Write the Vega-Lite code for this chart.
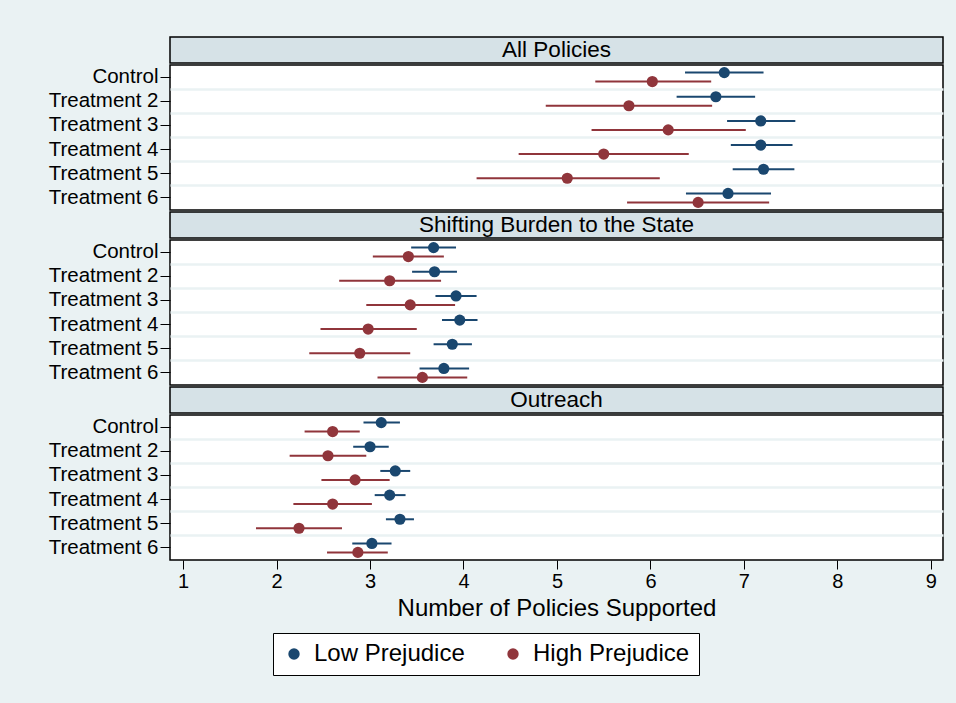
{
  "$schema": "https://vega.github.io/schema/vega-lite/v6.json",
  "background": "#eaf2f3",
  "padding": {"left": 47, "top": 36, "right": 12, "bottom": 30},
  "config": {
    "font": "Liberation Sans",
    "view": {"stroke": "black", "strokeWidth": 1.5, "fill": "white"},
    "concat": {"spacing": 0}
  },
  "datasets": {
    "d": [
      {"panel": "All Policies", "group": "Control", "prejudice": "Low Prejudice", "mean": 6.79, "lo": 6.37, "hi": 7.21},
      {"panel": "All Policies", "group": "Control", "prejudice": "High Prejudice", "mean": 6.02, "lo": 5.41, "hi": 6.65},
      {"panel": "All Policies", "group": "Treatment 2", "prejudice": "Low Prejudice", "mean": 6.70, "lo": 6.28, "hi": 7.12},
      {"panel": "All Policies", "group": "Treatment 2", "prejudice": "High Prejudice", "mean": 5.77, "lo": 4.88, "hi": 6.66},
      {"panel": "All Policies", "group": "Treatment 3", "prejudice": "Low Prejudice", "mean": 7.18, "lo": 6.82, "hi": 7.55},
      {"panel": "All Policies", "group": "Treatment 3", "prejudice": "High Prejudice", "mean": 6.19, "lo": 5.37, "hi": 7.02},
      {"panel": "All Policies", "group": "Treatment 4", "prejudice": "Low Prejudice", "mean": 7.18, "lo": 6.86, "hi": 7.52},
      {"panel": "All Policies", "group": "Treatment 4", "prejudice": "High Prejudice", "mean": 5.50, "lo": 4.59, "hi": 6.41},
      {"panel": "All Policies", "group": "Treatment 5", "prejudice": "Low Prejudice", "mean": 7.21, "lo": 6.88, "hi": 7.54},
      {"panel": "All Policies", "group": "Treatment 5", "prejudice": "High Prejudice", "mean": 5.11, "lo": 4.14, "hi": 6.10},
      {"panel": "All Policies", "group": "Treatment 6", "prejudice": "Low Prejudice", "mean": 6.83, "lo": 6.38, "hi": 7.29},
      {"panel": "All Policies", "group": "Treatment 6", "prejudice": "High Prejudice", "mean": 6.51, "lo": 5.75, "hi": 7.27},
      {"panel": "Shifting Burden to the State", "group": "Control", "prejudice": "Low Prejudice", "mean": 3.68, "lo": 3.44, "hi": 3.92},
      {"panel": "Shifting Burden to the State", "group": "Control", "prejudice": "High Prejudice", "mean": 3.41, "lo": 3.03, "hi": 3.79},
      {"panel": "Shifting Burden to the State", "group": "Treatment 2", "prejudice": "Low Prejudice", "mean": 3.69, "lo": 3.45, "hi": 3.93},
      {"panel": "Shifting Burden to the State", "group": "Treatment 2", "prejudice": "High Prejudice", "mean": 3.21, "lo": 2.67, "hi": 3.76},
      {"panel": "Shifting Burden to the State", "group": "Treatment 3", "prejudice": "Low Prejudice", "mean": 3.92, "lo": 3.70, "hi": 4.14},
      {"panel": "Shifting Burden to the State", "group": "Treatment 3", "prejudice": "High Prejudice", "mean": 3.43, "lo": 2.96, "hi": 3.91},
      {"panel": "Shifting Burden to the State", "group": "Treatment 4", "prejudice": "Low Prejudice", "mean": 3.96, "lo": 3.77, "hi": 4.15},
      {"panel": "Shifting Burden to the State", "group": "Treatment 4", "prejudice": "High Prejudice", "mean": 2.98, "lo": 2.47, "hi": 3.50},
      {"panel": "Shifting Burden to the State", "group": "Treatment 5", "prejudice": "Low Prejudice", "mean": 3.88, "lo": 3.68, "hi": 4.09},
      {"panel": "Shifting Burden to the State", "group": "Treatment 5", "prejudice": "High Prejudice", "mean": 2.89, "lo": 2.35, "hi": 3.43},
      {"panel": "Shifting Burden to the State", "group": "Treatment 6", "prejudice": "Low Prejudice", "mean": 3.79, "lo": 3.53, "hi": 4.06},
      {"panel": "Shifting Burden to the State", "group": "Treatment 6", "prejudice": "High Prejudice", "mean": 3.56, "lo": 3.08, "hi": 4.04},
      {"panel": "Outreach", "group": "Control", "prejudice": "Low Prejudice", "mean": 3.12, "lo": 2.93, "hi": 3.32},
      {"panel": "Outreach", "group": "Control", "prejudice": "High Prejudice", "mean": 2.60, "lo": 2.30, "hi": 2.89},
      {"panel": "Outreach", "group": "Treatment 2", "prejudice": "Low Prejudice", "mean": 3.00, "lo": 2.82, "hi": 3.20},
      {"panel": "Outreach", "group": "Treatment 2", "prejudice": "High Prejudice", "mean": 2.55, "lo": 2.14, "hi": 2.96},
      {"panel": "Outreach", "group": "Treatment 3", "prejudice": "Low Prejudice", "mean": 3.27, "lo": 3.11, "hi": 3.43},
      {"panel": "Outreach", "group": "Treatment 3", "prejudice": "High Prejudice", "mean": 2.84, "lo": 2.48, "hi": 3.21},
      {"panel": "Outreach", "group": "Treatment 4", "prejudice": "Low Prejudice", "mean": 3.21, "lo": 3.05, "hi": 3.38},
      {"panel": "Outreach", "group": "Treatment 4", "prejudice": "High Prejudice", "mean": 2.60, "lo": 2.18, "hi": 3.02},
      {"panel": "Outreach", "group": "Treatment 5", "prejudice": "Low Prejudice", "mean": 3.32, "lo": 3.17, "hi": 3.47},
      {"panel": "Outreach", "group": "Treatment 5", "prejudice": "High Prejudice", "mean": 2.24, "lo": 1.78, "hi": 2.70},
      {"panel": "Outreach", "group": "Treatment 6", "prejudice": "Low Prejudice", "mean": 3.02, "lo": 2.81, "hi": 3.23},
      {"panel": "Outreach", "group": "Treatment 6", "prejudice": "High Prejudice", "mean": 2.87, "lo": 2.54, "hi": 3.19}
    ],
    "titles": [
      {"panel": "All Policies"},
      {"panel": "Shifting Burden to the State"},
      {"panel": "Outreach"}
    ]
  },
  "spacing": 0,
  "vconcat": [
    {
      "spacing": 0,
      "vconcat": [
        {
          "width": 773, "height": 26,
          "view": {"fill": "#d6e2e7", "stroke": "black", "strokeWidth": 1.5},
          "data": {"name": "titles"},
          "transform": [{"filter": "datum.panel === 'All Policies'"}],
          "mark": {"type": "text", "fontSize": 22.5, "color": "black", "font": "Liberation Sans"},
          "encoding": {"text": {"field": "panel"}}
        },
        {
          "width": 773, "height": 145,
          "data": {"name": "d"},
          "transform": [{"filter": "datum.panel === 'All Policies'"}],
          "encoding": {
            "yOffset": {"field": "prejudice", "sort": ["Low Prejudice", "High Prejudice"], "scale": {"paddingInner": 0, "paddingOuter": 0.35}},
            "color": {"field": "prejudice", "type": "nominal", "sort": ["Low Prejudice", "High Prejudice"],
              "scale": {"domain": ["Low Prejudice", "High Prejudice"], "range": ["#1a476f", "#90353b"]},
              "legend": {"orient": "none", "legendX": 103, "legendY": 596, "direction": "horizontal", "title": null,
                "strokeColor": "black", "fillColor": "white", "padding": 9, "labelFontSize": 24, "labelColor": "black",
                "labelFont": "Liberation Sans", "symbolType": "circle", "symbolSize": 130, "symbolStrokeWidth": 0,
                "labelOffset": 8, "columnPadding": 36, "cornerRadius": 0}}
          },
          "layer": [
            {
              "mark": {"type": "rule", "strokeWidth": 2},
              "encoding": {
                "y": {"field": "group", "type": "nominal", "sort": ["Control", "Treatment 2", "Treatment 3", "Treatment 4", "Treatment 5", "Treatment 6"],
                  "scale": {"paddingInner": 0, "paddingOuter": 0},
                  "axis": {"title": null, "grid": false, "domain": false, "labelFontSize": 20.5, "labelColor": "black", "labelFont": "Liberation Sans", "tickColor": "black", "tickSize": 10, "tickWidth": 1, "labelPadding": 2, "orient": "left"}},
                "x": {"field": "lo", "type": "quantitative", "scale": {"domain": [0.86, 9.13], "nice": false, "zero": false}, "axis": null},
                "x2": {"field": "hi"}
              }
            },
            {
              "mark": {"type": "point", "filled": true, "opacity": 1, "size": 125},
              "encoding": {
                "y": {"field": "group", "type": "nominal", "sort": ["Control", "Treatment 2", "Treatment 3", "Treatment 4", "Treatment 5", "Treatment 6"],
                  "axis": {"title": null, "grid": true, "gridColor": "#eaf2f3", "gridWidth": 2.5, "domain": false, "labels": false, "ticks": false, "bandPosition": 0, "values": ["Treatment 2", "Treatment 3", "Treatment 4", "Treatment 5", "Treatment 6"], "orient": "left"}},
                "x": {"field": "mean", "type": "quantitative"}
              }
            }
          ],
          "resolve": {"axis": {"y": "independent"}}
        }
      ]
    },
    {
      "spacing": 0,
      "vconcat": [
        {
          "width": 773, "height": 26,
          "view": {"fill": "#d6e2e7", "stroke": "black", "strokeWidth": 1.5},
          "data": {"name": "titles"},
          "transform": [{"filter": "datum.panel === 'Shifting Burden to the State'"}],
          "mark": {"type": "text", "fontSize": 22.5, "color": "black", "font": "Liberation Sans"},
          "encoding": {"text": {"field": "panel"}}
        },
        {
          "width": 773, "height": 145,
          "data": {"name": "d"},
          "transform": [{"filter": "datum.panel === 'Shifting Burden to the State'"}],
          "encoding": {
            "yOffset": {"field": "prejudice", "sort": ["Low Prejudice", "High Prejudice"], "scale": {"paddingInner": 0, "paddingOuter": 0.35}},
            "color": {"field": "prejudice", "type": "nominal", "sort": ["Low Prejudice", "High Prejudice"],
              "scale": {"domain": ["Low Prejudice", "High Prejudice"], "range": ["#1a476f", "#90353b"]}}
          },
          "layer": [
            {
              "mark": {"type": "rule", "strokeWidth": 2},
              "encoding": {
                "y": {"field": "group", "type": "nominal", "sort": ["Control", "Treatment 2", "Treatment 3", "Treatment 4", "Treatment 5", "Treatment 6"],
                  "scale": {"paddingInner": 0, "paddingOuter": 0},
                  "axis": {"title": null, "grid": false, "domain": false, "labelFontSize": 20.5, "labelColor": "black", "labelFont": "Liberation Sans", "tickColor": "black", "tickSize": 10, "tickWidth": 1, "labelPadding": 2, "orient": "left"}},
                "x": {"field": "lo", "type": "quantitative", "scale": {"domain": [0.86, 9.13], "nice": false, "zero": false}, "axis": null},
                "x2": {"field": "hi"}
              }
            },
            {
              "mark": {"type": "point", "filled": true, "opacity": 1, "size": 125},
              "encoding": {
                "y": {"field": "group", "type": "nominal", "sort": ["Control", "Treatment 2", "Treatment 3", "Treatment 4", "Treatment 5", "Treatment 6"],
                  "axis": {"title": null, "grid": true, "gridColor": "#eaf2f3", "gridWidth": 2.5, "domain": false, "labels": false, "ticks": false, "bandPosition": 0, "values": ["Treatment 2", "Treatment 3", "Treatment 4", "Treatment 5", "Treatment 6"], "orient": "left"}},
                "x": {"field": "mean", "type": "quantitative"}
              }
            }
          ],
          "resolve": {"axis": {"y": "independent"}}
        }
      ]
    },
    {
      "spacing": 0,
      "vconcat": [
        {
          "width": 773, "height": 26,
          "view": {"fill": "#d6e2e7", "stroke": "black", "strokeWidth": 1.5},
          "data": {"name": "titles"},
          "transform": [{"filter": "datum.panel === 'Outreach'"}],
          "mark": {"type": "text", "fontSize": 22.5, "color": "black", "font": "Liberation Sans"},
          "encoding": {"text": {"field": "panel"}}
        },
        {
          "width": 773, "height": 145,
          "data": {"name": "d"},
          "transform": [{"filter": "datum.panel === 'Outreach'"}],
          "encoding": {
            "yOffset": {"field": "prejudice", "sort": ["Low Prejudice", "High Prejudice"], "scale": {"paddingInner": 0, "paddingOuter": 0.35}},
            "color": {"field": "prejudice", "type": "nominal", "sort": ["Low Prejudice", "High Prejudice"],
              "scale": {"domain": ["Low Prejudice", "High Prejudice"], "range": ["#1a476f", "#90353b"]}}
          },
          "layer": [
            {
              "mark": {"type": "rule", "strokeWidth": 2},
              "encoding": {
                "y": {"field": "group", "type": "nominal", "sort": ["Control", "Treatment 2", "Treatment 3", "Treatment 4", "Treatment 5", "Treatment 6"],
                  "scale": {"paddingInner": 0, "paddingOuter": 0},
                  "axis": {"title": null, "grid": false, "domain": false, "labelFontSize": 20.5, "labelColor": "black", "labelFont": "Liberation Sans", "tickColor": "black", "tickSize": 10, "tickWidth": 1, "labelPadding": 2, "orient": "left"}},
                "x": {"field": "lo", "type": "quantitative", "scale": {"domain": [0.86, 9.13], "nice": false, "zero": false},
                  "axis": {"values": [1, 2, 3, 4, 5, 6, 7, 8, 9], "format": "d", "grid": false, "domain": false, "labelFontSize": 20, "labelColor": "black", "labelFont": "Liberation Sans", "tickColor": "black", "tickSize": 9, "tickWidth": 1, "labelPadding": 2,
                    "title": "Number of Policies Supported", "titleFontSize": 24, "titleFontWeight": "normal", "titleColor": "black", "titleFont": "Liberation Sans", "titlePadding": 5}},
                "x2": {"field": "hi"}
              }
            },
            {
              "mark": {"type": "point", "filled": true, "opacity": 1, "size": 125},
              "encoding": {
                "y": {"field": "group", "type": "nominal", "sort": ["Control", "Treatment 2", "Treatment 3", "Treatment 4", "Treatment 5", "Treatment 6"],
                  "axis": {"title": null, "grid": true, "gridColor": "#eaf2f3", "gridWidth": 2.5, "domain": false, "labels": false, "ticks": false, "bandPosition": 0, "values": ["Treatment 2", "Treatment 3", "Treatment 4", "Treatment 5", "Treatment 6"], "orient": "left"}},
                "x": {"field": "mean", "type": "quantitative"}
              }
            }
          ],
          "resolve": {"axis": {"y": "independent"}}
        }
      ]
    }
  ]
}
